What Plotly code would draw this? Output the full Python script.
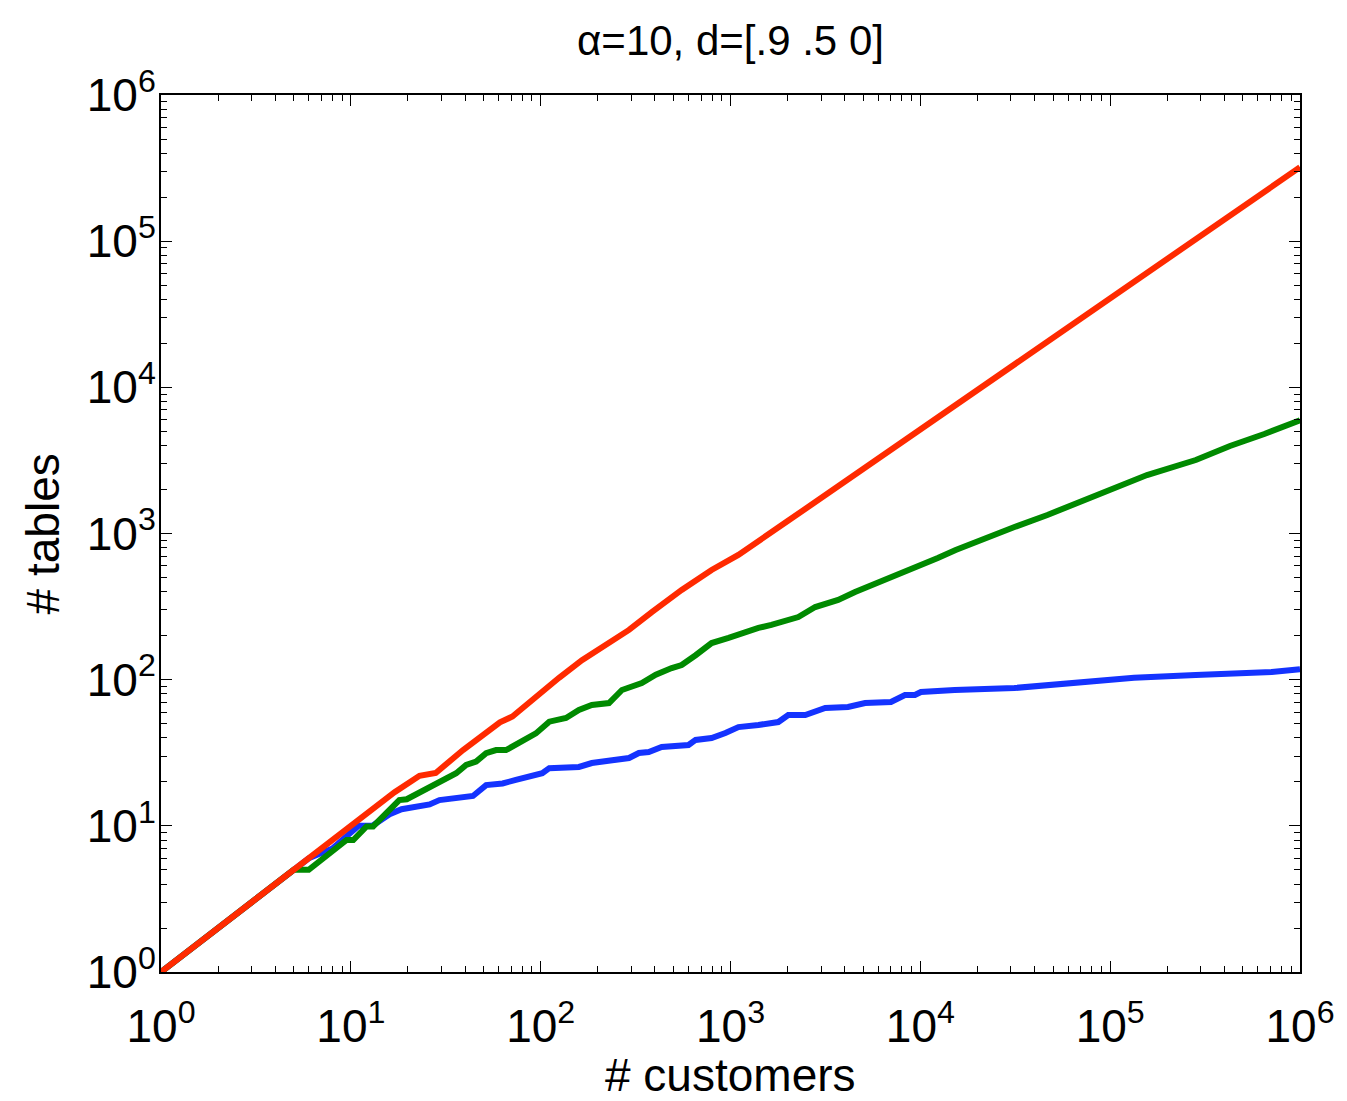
import plotly.graph_objects as go

# customers vs tables
blue_x = [1, 5, 6, 8, 10, 11, 13, 16, 18.5, 26, 29.3, 44, 51.6, 63, 74, 87, 102, 111, 125, 159, 186, 237, 292,
          329, 371, 434, 601, 655, 795, 940, 1101, 1403, 1786, 2015, 2476, 3155, 4160, 5115, 7000, 8300, 9360,
          10070, 15170, 31330, 46700, 85500, 133600, 282500, 427000, 710000, 1000000]
blue_y = [1, 5, 6, 7, 9, 10, 10, 12, 13, 14, 15, 16, 19, 19.5, 20.6, 21.7, 22.9, 24.8, 24.9, 25.3, 26.9, 28.2, 29.1,
          31.5, 32, 34.6, 35.7, 38.7, 39.9, 43.2, 47.4, 49, 51.3, 57.3, 57.3, 64, 65, 69.2, 70.4, 78.5, 78.5,
          82.3, 85, 87.7, 91.9, 99.5, 103, 107.6, 110, 113, 118]

green_x = [1, 5, 6, 9.5, 10.3, 12.1, 13.1, 18, 19.7, 26, 30.5, 35.9, 40.5, 45.7, 51.6, 58.2, 65.7, 80.3, 94.4,
           111, 125, 136, 159, 186, 229, 268, 341, 404, 490, 553, 655, 795, 977, 1200, 1403, 1641, 2277, 2794,
           3690, 4530, 5980, 7620, 10070, 12360, 15350, 20800, 31330, 46700, 69500, 105000, 156300, 282500,
           427600, 648600, 1000000]
green_y = [1, 5, 5, 8, 8, 9.9, 9.9, 15, 15.2, 18.5, 20.6, 22.9, 26.1, 27.5, 31.4, 33, 33, 38.7, 42.9,
           51.6, 53, 54.7, 62, 67.1, 69.2, 85, 94.9, 108, 120, 126, 147, 178, 193, 212, 226, 237, 268, 314,
           351, 398, 459, 520, 609, 680, 771, 903, 1108, 1339, 1642, 2048, 2513, 3183,
           3970, 4795, 5950]

red_x = [1, 8, 17, 23, 28, 39, 48, 61, 71, 87, 102, 125, 165, 221, 292, 385, 553, 795, 1100, 2000, 5000,
         10000, 20000, 50000, 100000, 200000, 500000, 1000000]
red_y = [1, 8, 17, 22, 23, 33, 40, 51, 56, 70, 82, 103, 136, 173, 219, 290, 411, 563, 713, 1216, 2767,
         5150, 9590, 21800, 40600, 75700, 172000, 320600]

major_vals = [10 ** e for e in range(7)]
major_text = ["10<sup>%d</sup>" % e for e in range(7)]
minor_vals = [k * 10 ** e for e in range(6) for k in range(2, 10)]

FONT = "Liberation Sans, Arial, Helvetica, sans-serif"

fig = go.Figure()
fig.add_trace(go.Scatter(x=blue_x, y=blue_y, mode="lines", line=dict(color="#1433FF", width=6), showlegend=False))
fig.add_trace(go.Scatter(x=green_x, y=green_y, mode="lines", line=dict(color="#008A00", width=6), showlegend=False))
fig.add_trace(go.Scatter(x=red_x, y=red_y, mode="lines", line=dict(color="#FF2A00", width=6), showlegend=False))

axis_common = dict(
    type="log",
    range=[0, 6],
    tickvals=major_vals,
    ticktext=major_text,
    ticks="inside",
    ticklen=11,
    tickwidth=1.2,
    tickcolor="black",
    showline=True,
    linecolor="black",
    linewidth=2,
    mirror="allticks",
    showgrid=False,
    zeroline=False,
    tickfont=dict(family=FONT, size=46, color="black"),
    minor=dict(tickvals=minor_vals, ticks="inside", ticklen=6, tickwidth=1, tickcolor="black", showgrid=False),
)

fig.update_layout(
    width=1339,
    height=1093,
    margin=dict(l=152.5, r=43.5, t=87, b=129),
    paper_bgcolor="white",
    plot_bgcolor="white",
    xaxis=dict(axis_common, ticklabelstandoff=13),
    yaxis=dict(axis_common, ticklabelstandoff=-6),
    title=dict(text="\u03b1=10, d=[.9 .5 0]", xref="paper", x=0.5, xanchor="center", y=0.9707, yanchor="middle",
               font=dict(family=FONT, size=42, color="black")),
    font=dict(family=FONT, color="black"),
    annotations=[
        dict(text="# customers", xref="paper", yref="paper", x=0.5, y=-0.1174, xanchor="center",
             yanchor="middle", showarrow=False, font=dict(family=FONT, size=46, color="black")),
        dict(text="# tables", xref="paper", yref="paper", x=-0.1037, y=0.5, xanchor="center",
             yanchor="middle", textangle=-90, showarrow=False, font=dict(family=FONT, size=46, color="black")),
    ],
)

fig.write_html("out.html")
